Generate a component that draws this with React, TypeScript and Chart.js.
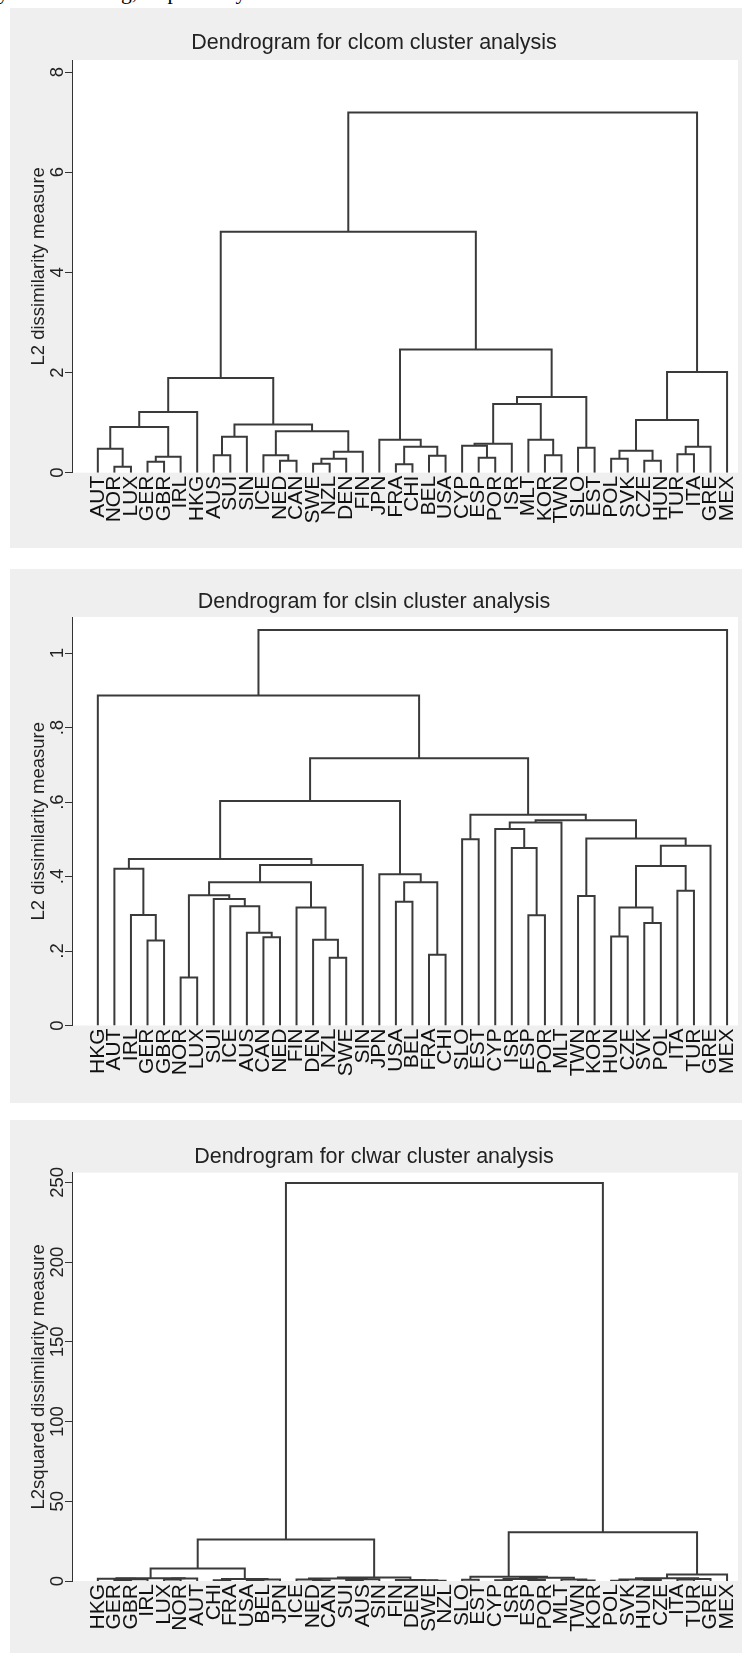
import React, { useEffect, useRef } from "react";
import { Chart, registerables } from "chart.js";

Chart.register(...registerables);

const FONT = "'Liberation Sans', Arial, Helvetica, sans-serif";
const LINE = "#3a3a3a";

type Ref = string | number;
type Merge = [Ref, Ref, number];

// ---- clcom (complete linkage) ----
const clcomLeaves = [
  "AUT", "NOR", "LUX", "GER", "GBR", "IRL", "HKG", "AUS", "SUI", "SIN", "ICE", "NED", "CAN",
  "SWE", "NZL", "DEN", "FIN", "JPN", "FRA", "CHI", "BEL", "USA", "CYP", "ESP", "POR", "ISR",
  "MLT", "KOR", "TWN", "SLO", "EST", "POL", "SVK", "CZE", "HUN", "TUR", "ITA", "GRE", "MEX",
];
// [left, right, height]: names are leaves, numbers point at earlier merges
const clcomMerges: Merge[] = [
  ["NOR", "LUX", 0.12], ["AUT", 0, 0.48], ["GER", "GBR", 0.22], [2, "IRL", 0.32],
  [1, 3, 0.91], [4, "HKG", 1.21], ["AUS", "SUI", 0.35], [6, "SIN", 0.72],
  ["NED", "CAN", 0.24], ["ICE", 8, 0.35], ["SWE", "NZL", 0.18], [10, "DEN", 0.28],
  [11, "FIN", 0.42], [9, 12, 0.83], [7, 13, 0.96], [5, 14, 1.89],
  ["FRA", "CHI", 0.17], ["BEL", "USA", 0.34], [16, 17, 0.52], ["JPN", 18, 0.66],
  ["ESP", "POR", 0.3], ["CYP", 20, 0.54], [21, "ISR", 0.58], ["KOR", "TWN", 0.35],
  ["MLT", 23, 0.66], [22, 24, 1.37], ["SLO", "EST", 0.5], [25, 26, 1.51],
  [19, 27, 2.46], [15, 28, 4.81], ["POL", "SVK", 0.28], ["CZE", "HUN", 0.24],
  [30, 31, 0.44], ["TUR", "ITA", 0.37], [33, "GRE", 0.52], [32, 34, 1.05],
  [35, "MEX", 2.01], [29, 36, 7.19],
];
const clcomTicks = [0, 2, 4, 6, 8];

// ---- clsin (single linkage) ----
const clsinLeaves = [
  "HKG", "AUT", "IRL", "GER", "GBR", "NOR", "LUX", "SUI", "ICE", "AUS", "CAN", "NED", "FIN",
  "DEN", "NZL", "SWE", "SIN", "JPN", "USA", "BEL", "FRA", "CHI", "SLO", "EST", "CYP", "ISR",
  "ESP", "POR", "MLT", "TWN", "KOR", "HUN", "CZE", "SVK", "POL", "ITA", "TUR", "GRE", "MEX",
];
const clsinMerges: Merge[] = [
  ["GER", "GBR", 0.228], ["IRL", 0, 0.297], ["AUT", 1, 0.421], ["NOR", "LUX", 0.129],
  ["CAN", "NED", 0.237], ["AUS", 4, 0.249], ["ICE", 5, 0.32], ["SUI", 6, 0.34],
  [3, 7, 0.35], ["NZL", "SWE", 0.182], ["DEN", 9, 0.23], ["FIN", 10, 0.317],
  [8, 11, 0.385], [12, "SIN", 0.431], [2, 13, 0.447], ["USA", "BEL", 0.332],
  ["FRA", "CHI", 0.19], [15, 16, 0.385], ["JPN", 17, 0.406], [14, 18, 0.603],
  ["SLO", "EST", 0.5], ["ESP", "POR", 0.296], ["ISR", 21, 0.477], ["CYP", 22, 0.528],
  [23, "MLT", 0.545], ["TWN", "KOR", 0.348], ["HUN", "CZE", 0.239], ["SVK", "POL", 0.275],
  [26, 27, 0.317], ["ITA", "TUR", 0.362], [28, 29, 0.428], [30, "GRE", 0.483],
  [25, 31, 0.502], [24, 32, 0.551], [20, 33, 0.566], [19, 34, 0.718],
  ["HKG", 35, 0.886], [36, "MEX", 1.062],
];
const clsinTicks = [0, 0.2, 0.4, 0.6, 0.8, 1];

// ---- clwar (Ward's linkage) ----
const clwarLeaves = [
  "HKG", "GER", "GBR", "IRL", "LUX", "NOR", "AUT", "CHI", "FRA", "USA", "BEL", "JPN", "ICE",
  "NED", "CAN", "SUI", "AUS", "SIN", "FIN", "DEN", "SWE", "NZL", "SLO", "EST", "CYP", "ISR",
  "ESP", "POR", "MLT", "TWN", "KOR", "POL", "SVK", "HUN", "CZE", "ITA", "TUR", "GRE", "MEX",
];
const clwarMerges: Merge[] = [
  ["GER", "GBR", 0.6], [0, "IRL", 1.1], ["HKG", 1, 1.4], ["LUX", "NOR", 0.9],
  [3, "AUT", 1.5], [2, 4, 1.8], ["CHI", "FRA", 0.5], ["USA", "BEL", 0.4],
  [7, "JPN", 0.9], [6, 8, 1.2], [5, 9, 7.9], ["NED", "CAN", 0.5],
  ["ICE", 11, 0.9], ["SUI", "AUS", 0.6], [13, "SIN", 1.1], [12, 14, 1.5],
  ["SWE", "NZL", 0.2], ["DEN", 16, 0.4], ["FIN", 17, 0.7], [15, 18, 2.2],
  [10, 19, 26.0], ["SLO", "EST", 0.8], ["CYP", "ISR", 0.4], ["ESP", "POR", 0.6],
  [22, 23, 1.2], ["TWN", "KOR", 0.3], ["MLT", 25, 0.9], [24, 26, 2.0],
  [21, 27, 2.7], ["POL", "SVK", 0.1], ["HUN", "CZE", 0.7], [29, 30, 1.0],
  ["ITA", "TUR", 1.0], [32, "GRE", 1.3], [31, 33, 1.7], [34, "MEX", 4.0],
  [28, 35, 30.6], [20, 36, 249.6],
];
const clwarTicks = [0, 50, 100, 150, 200, 250];

type Spec = {
  title: string;
  yTitle: string;
  leaves: string[];
  merges: Merge[];
  ticks: number[];
  yMax: number;
  fmt: (v: number) => string;
  top: number;
  height: number;
  titleC: number;
  plotTop: number;
  zero: number;
};

function buildLinks(leaves: string[], merges: Merge[]) {
  const pos = new Map<string, number>();
  leaves.forEach((n, i) => pos.set(n, i));
  const nodeX: number[] = [];
  const nodeH: number[] = [];
  const at = (r: Ref) =>
    typeof r === "string" ? { x: pos.get(r) as number, h: 0 } : { x: nodeX[r], h: nodeH[r] };
  return merges.map(([a, b, h], k) => {
    const L = at(a);
    const R = at(b);
    nodeX[k] = (L.x + R.x) / 2;
    nodeH[k] = h;
    return [
      { x: L.x, y: L.h },
      { x: L.x, y: h },
      { x: R.x, y: h },
      { x: R.x, y: R.h },
    ];
  });
}

const plotBackground = {
  id: "plotBackground",
  beforeDraw(chart: any) {
    const { ctx, chartArea: a } = chart;
    ctx.save();
    ctx.fillStyle = "#ffffff";
    ctx.fillRect(a.left, a.top, a.right - a.left, a.bottom - a.top);
    ctx.restore();
  },
};

const W = 732;
const AXIS_W = 62;
const RIGHT_PAD = 4;
const TICK_LEN = 7;
const TICK_FONT = 18.5;
const LEAF_FONT = 21;
const TITLE_FONT = 21.5;
const YTITLE_FONT = 18.5;
const LEAD = 1.56; // gap before the first leaf, in leaf spacings
const TRAIL = 0.66; // gap after the last leaf

// padding that puts the centre of each rotated tick label at a fixed x
function tickPadding(labels: string[], size: number, centreX: number) {
  const ctx = document.createElement("canvas").getContext("2d") as CanvasRenderingContext2D;
  ctx.font = `${size}px ${FONT}`;
  const widest = Math.max(...labels.map((l) => ctx.measureText(l).width));
  return AXIS_W - TICK_LEN - centreX - widest / 2;
}

function Dendrogram({ spec }: { spec: Spec }) {
  const ref = useRef<HTMLCanvasElement>(null);
  useEffect(() => {
    const links = buildLinks(spec.leaves, spec.merges);
    const n = spec.leaves.length;
    const pad = tickPadding(spec.ticks.map(spec.fmt), TICK_FONT, 47.5);
    const titleLH = TITLE_FONT * 1.2;
    const titleTop = spec.titleC - titleLH / 2;
    const chart = new Chart(ref.current as HTMLCanvasElement, {
      type: "scatter",
      data: {
        datasets: links.map((pts) => ({
          data: pts,
          showLine: true,
          borderColor: LINE,
          borderWidth: 2,
          pointRadius: 0,
          pointHoverRadius: 0,
          fill: false,
          tension: 0,
        })),
      },
      options: {
        responsive: false,
        animation: false,
        devicePixelRatio: 1,
        layout: { padding: { left: 0, right: RIGHT_PAD, top: 0, bottom: 0 } },
        plugins: {
          legend: { display: false },
          tooltip: { enabled: false },
          title: {
            display: true,
            text: spec.title,
            color: "#222",
            font: { family: FONT, size: TITLE_FONT, weight: "normal", lineHeight: 1.2 },
            padding: { top: titleTop, bottom: spec.plotTop - titleTop - titleLH },
          },
        },
        scales: {
          x: {
            type: "linear",
            min: -LEAD,
            max: n - 1 + TRAIL,
            afterBuildTicks: (s: any) => {
              s.ticks = spec.leaves.map((_, i) => ({ value: i }));
            },
            afterFit: (s: any) => {
              s.height = spec.height - spec.zero;
              s.paddingLeft = 0;
              s.paddingRight = 0;
            },
            grid: { display: false, drawTicks: false },
            border: { display: false },
            ticks: {
              autoSkip: false,
              minRotation: 90,
              maxRotation: 90,
              padding: 3,
              color: "#111",
              font: { family: FONT, size: LEAF_FONT },
              callback: (v: any) => spec.leaves[Math.round(v)] ?? "",
            },
          },
          y: {
            type: "linear",
            min: 0,
            max: spec.yMax,
            afterBuildTicks: (s: any) => {
              s.ticks = spec.ticks.map((v) => ({ value: v }));
            },
            afterFit: (s: any) => {
              s.width = AXIS_W;
              s.paddingTop = 0;
              s.paddingBottom = 0;
            },
            grid: {
              display: true,
              drawOnChartArea: false,
              drawTicks: true,
              tickLength: TICK_LEN,
              color: "#333",
              lineWidth: 1,
            },
            border: { display: true, color: "#333", width: 1 },
            ticks: {
              minRotation: 90,
              maxRotation: 90,
              crossAlign: "center",
              padding: pad,
              color: "#222",
              font: { family: FONT, size: TICK_FONT },
              callback: (v: any) => spec.fmt(Number(v)),
            },
            title: {
              display: true,
              text: spec.yTitle,
              color: "#222",
              font: { family: FONT, size: YTITLE_FONT, lineHeight: 1.2 },
              padding: { top: 28.5 - (YTITLE_FONT * 1.2) / 2, bottom: 0 },
            },
          },
        },
      } as any,
      plugins: [plotBackground],
    });
    return () => chart.destroy();
  }, [spec]);
  return (
    <div
      style={{
        position: "absolute",
        left: 10,
        top: spec.top,
        width: W,
        height: spec.height,
        background: "#efefef",
      }}
    >
      <canvas ref={ref} width={W} height={spec.height} style={{ display: "block" }} />
    </div>
  );
}

const panels: Spec[] = [
  {
    title: "Dendrogram for clcom cluster analysis",
    yTitle: "L2 dissimilarity measure",
    leaves: clcomLeaves,
    merges: clcomMerges,
    ticks: clcomTicks,
    yMax: 8.24,
    fmt: (v) => String(v),
    top: 8,
    height: 540,
    titleC: 35,
    plotTop: 52,
    zero: 464.7,
  },
  {
    title: "Dendrogram for clsin cluster analysis",
    yTitle: "L2 dissimilarity measure",
    leaves: clsinLeaves,
    merges: clsinMerges,
    ticks: clsinTicks,
    yMax: 1.097,
    fmt: (v) => (v === 0 || v === 1 ? String(v) : String(v).replace(/^0/, "")),
    top: 569,
    height: 534,
    titleC: 33,
    plotTop: 48,
    zero: 456.5,
  },
  {
    title: "Dendrogram for clwar cluster analysis",
    yTitle: "L2squared dissimilarity measure",
    leaves: clwarLeaves,
    merges: clwarMerges,
    ticks: clwarTicks,
    yMax: 256.1,
    fmt: (v) => String(v),
    top: 1120,
    height: 533,
    titleC: 37,
    plotTop: 52.7,
    zero: 461,
  },
];

export default function App() {
  return (
    <div style={{ position: "absolute", left: 0, top: 0, width: 742, height: 1653, background: "#fff" }}>
      <div
        style={{
          position: "absolute",
          left: 0,
          top: 0,
          width: 742,
          height: 8,
          overflow: "hidden",
          font: "21.5px 'Liberation Serif', serif",
          color: "#000",
          whiteSpace: "nowrap",
        }}
      >
        <span style={{ position: "absolute", left: -2, top: -20 }}>y</span>
        <span style={{ position: "absolute", left: 121, top: -20 }}>g, respectively</span>
      </div>
      {panels.map((p) => (
        <Dendrogram key={p.title} spec={p} />
      ))}
    </div>
  );
}
